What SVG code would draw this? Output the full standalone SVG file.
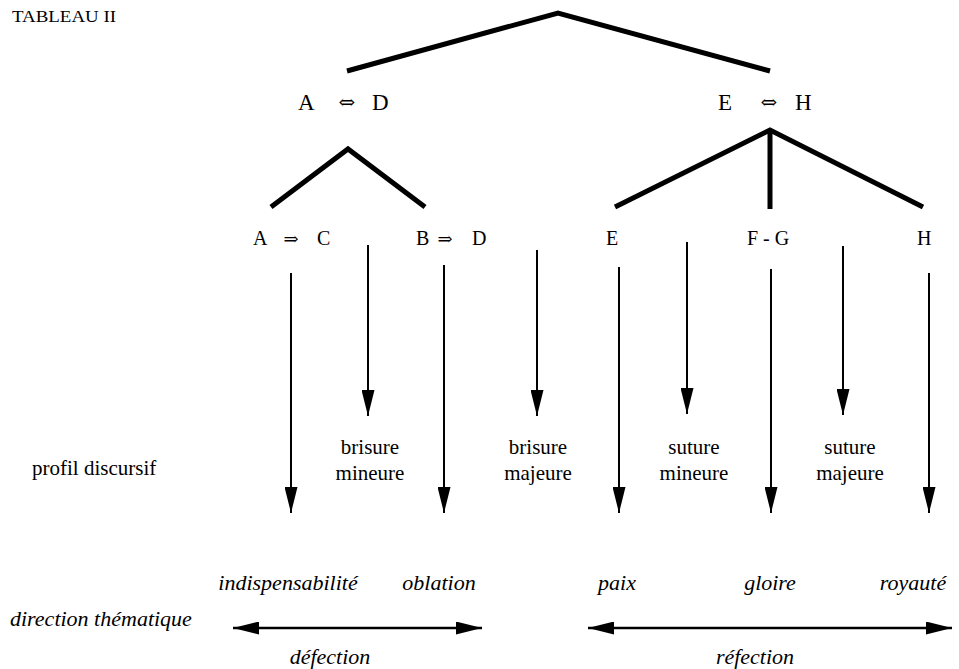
<svg xmlns="http://www.w3.org/2000/svg" width="959" height="669" viewBox="0 0 959 669">
<style>
text{font-family:"Liberation Serif","Times New Roman",serif;fill:#000}
.arr{font-family:"DejaVu Serif",serif}
.lv1{font-size:23px}
.lv2{font-size:20px}
.lab{font-size:21px}
.it{font-size:22px;font-style:italic}
.tree{fill:none;stroke:#000;stroke-width:5}
.v{fill:none;stroke:#000;stroke-width:2}
.h{fill:none;stroke:#000;stroke-width:2.5}
</style>
<defs>
<marker id="ah" viewBox="0 0 26 13" refX="26" refY="6.5" markerWidth="26" markerHeight="13" markerUnits="userSpaceOnUse" orient="auto-start-reverse">
<path d="M0,0 L26,6.5 L0,13 Z" fill="#000"/>
</marker>
</defs>
<rect width="959" height="669" fill="#fff"/>
<text x="12" y="22" font-size="17" textLength="104" lengthAdjust="spacingAndGlyphs">TABLEAU II</text>

<g id="tree-top"><polyline class="tree" points="347,71 558,13 770,71"/></g>

<g id="node-AD">
<text class="lv1" x="298" y="110">A</text>
<text class="arr" x="347" y="109" text-anchor="middle" font-size="20">⇔</text>
<text class="lv1" x="372" y="110">D</text>
</g>
<g id="node-EH">
<text class="lv1" x="718" y="110">E</text>
<text class="arr" x="769" y="109" text-anchor="middle" font-size="20">⇔</text>
<text class="lv1" x="795" y="110">H</text>
</g>

<g id="tree-left"><polyline class="tree" points="271,207 348,149 425,207"/></g>
<g id="tree-right"><polyline class="tree" points="615,207 770,130 923,207"/><line class="tree" x1="770" y1="130" x2="770" y2="209"/></g>

<g id="node-AC">
<text class="lv2" x="253" y="245">A</text>
<text class="arr" x="291" y="245" text-anchor="middle" font-size="18">⇒</text>
<text class="lv2" x="317" y="245">C</text>
</g>
<g id="node-BD">
<text class="lv2" x="416" y="245">B</text>
<text class="arr" x="445" y="245" text-anchor="middle" font-size="18">⇒</text>
<text class="lv2" x="472" y="245">D</text>
</g>
<g id="node-E"><text class="lv2" x="606" y="245">E</text></g>
<g id="node-FG"><text class="lv2" x="747" y="245">F - G</text></g>
<g id="node-H"><text class="lv2" x="917" y="245">H</text></g>

<g id="connectors">
<line class="v" x1="291" y1="273" x2="291" y2="513" marker-end="url(#ah)"/>
<line class="v" x1="368" y1="245" x2="368" y2="416" marker-end="url(#ah)"/>
<line class="v" x1="444" y1="265" x2="444" y2="513" marker-end="url(#ah)"/>
<line class="v" x1="537" y1="250" x2="537" y2="416" marker-end="url(#ah)"/>
<line class="v" x1="619" y1="267" x2="619" y2="513" marker-end="url(#ah)"/>
<line class="v" x1="687" y1="242" x2="687" y2="414" marker-end="url(#ah)"/>
<line class="v" x1="771" y1="269" x2="771" y2="513" marker-end="url(#ah)"/>
<line class="v" x1="843" y1="246" x2="843" y2="415" marker-end="url(#ah)"/>
<line class="v" x1="929" y1="273" x2="929" y2="513" marker-end="url(#ah)"/>
<line class="h" x1="233" y1="628" x2="482" y2="628" marker-start="url(#ah)" marker-end="url(#ah)"/>
<line class="h" x1="588" y1="628" x2="952" y2="628" marker-start="url(#ah)" marker-end="url(#ah)"/>
</g>

<g id="label-profil"><text class="lab" x="32" y="475">profil discursif</text></g>
<g id="label-brisure-mineure">
<text class="lab" x="370" y="454" text-anchor="middle">brisure</text>
<text class="lab" x="370" y="480" text-anchor="middle">mineure</text>
</g>
<g id="label-brisure-majeure">
<text class="lab" x="538" y="454" text-anchor="middle">brisure</text>
<text class="lab" x="538" y="480" text-anchor="middle">majeure</text>
</g>
<g id="label-suture-mineure">
<text class="lab" x="694" y="454" text-anchor="middle">suture</text>
<text class="lab" x="694" y="480" text-anchor="middle">mineure</text>
</g>
<g id="label-suture-majeure">
<text class="lab" x="850" y="454" text-anchor="middle">suture</text>
<text class="lab" x="850" y="480" text-anchor="middle">majeure</text>
</g>

<g id="label-direction"><text class="it" x="10" y="626" font-size="21">direction thématique</text></g>
<g id="label-indispensabilite"><text class="it" x="288" y="590" text-anchor="middle">indispensabilité</text></g>
<g id="label-oblation"><text class="it" x="439" y="590" text-anchor="middle">oblation</text></g>
<g id="label-paix"><text class="it" x="617" y="590" text-anchor="middle">paix</text></g>
<g id="label-gloire"><text class="it" x="770" y="590" text-anchor="middle">gloire</text></g>
<g id="label-royaute"><text class="it" x="913" y="590" text-anchor="middle">royauté</text></g>
<g id="label-defection"><text class="it" x="330" y="664" text-anchor="middle">défection</text></g>
<g id="label-refection"><text class="it" x="755" y="664" text-anchor="middle">réfection</text></g>
</svg>
